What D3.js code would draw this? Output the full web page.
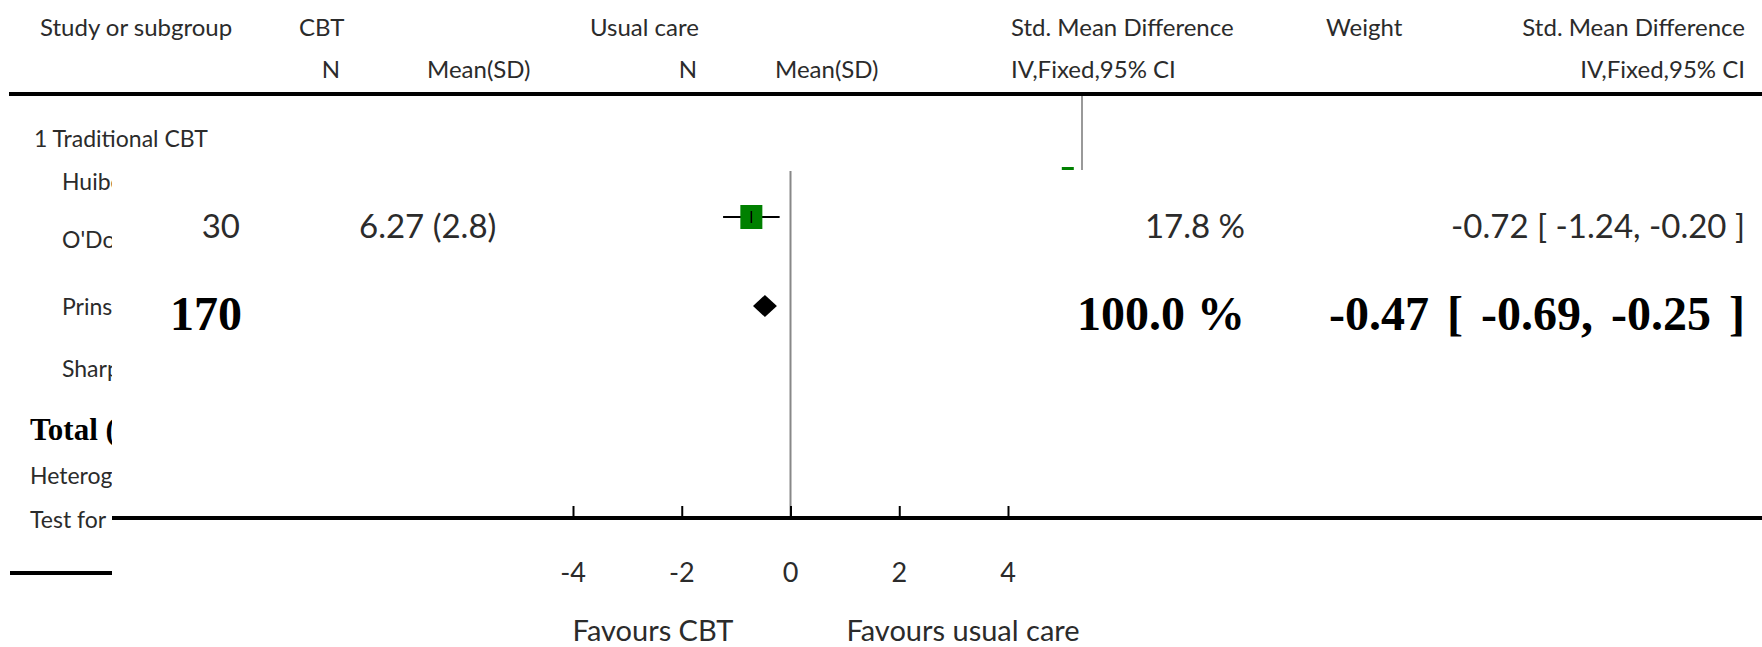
<!DOCTYPE html>
<html>
<head>
<meta charset="utf-8">
<script src="https://cdn.jsdelivr.net/npm/d3@7"></script>
<style>
  body { margin: 0; background: #fff; }
  svg { display: block; }
  text { font-family: Lato, "Open Sans", sans-serif; fill: #2b2b2b; }
  .big { font-family: "Liberation Serif", "DejaVu Serif", serif; font-weight: bold; fill: #000; }
</style>
</head>
<body>
<svg id="chart" width="1762" height="647"></svg>
<script>
// original (small) forest plot rows, mostly hidden behind the zoomed panel
const subgroupLabel = "1 Traditional CBT";
const studies = ["Huibers 2004", "O'Dowd 2006", "Prins 2001", "Sharpe 1996"];
const footLabels = ["Heterogeneity", "Test for overall effect"];
const firstStudySMD = [-0.8];

// zoomed panel: one study row and the total row
const rowN = [30];
const rowMeanSD = ["6.27 (2.8)"];
const rowWeight = [17.8];
const rowSMD = [-0.72];
const rowLo = [-1.24];
const rowHi = [-0.20];

const totalN = [170];
const totalWeight = [100.0];
const totalSMD = [-0.47];
const totalLo = [-0.69];
const totalHi = [-0.25];

const axisTicks = [-4, -2, 0, 2, 4];
const favours = ["Favours CBT", "Favours usual care"];

const svg = d3.select("#chart");
const W = 1762, H = 647;

// ---- header
const head = svg.append("g");
function label(g, x, y, txt, anchor, size) {
  return g.append("text")
    .attr("x", x).attr("y", y).attr("dy", "0.35em")
    .attr("text-anchor", anchor || "start")
    .attr("font-size", size || 24)
    .text(txt);
}
label(head, 40, 28, "Study or subgroup");
label(head, 299, 28, "CBT");
label(head, 590, 28, "Usual care");
label(head, 1011, 28, "Std. Mean Difference");
label(head, 1326, 28, "Weight");
label(head, 1745, 28, "Std. Mean Difference", "end");
label(head, 340, 70, "N", "end");
label(head, 427, 70, "Mean(SD)");
label(head, 697, 70, "N", "end");
label(head, 775, 70, "Mean(SD)");
label(head, 1011, 70, "IV,Fixed,95% CI");
label(head, 1745, 70, "IV,Fixed,95% CI", "end");

head.append("line")
  .attr("x1", 9).attr("x2", W).attr("y1", 94).attr("y2", 94)
  .attr("stroke", "#000").attr("stroke-width", 4);

// ---- original small plot (underneath)
const origX = d3.scaleLinear().domain([-4, 4]).range([1011, 1153]);
const base = svg.append("g");
base.append("line")
  .attr("x1", origX(0)).attr("x2", origX(0))
  .attr("y1", 96).attr("y2", 600)
  .attr("stroke", "#999").attr("stroke-width", 2);
base.selectAll("rect.orig")
  .data(firstStudySMD)
  .join("rect")
  .attr("class", "orig")
  .attr("x", d => origX(d) - 6).attr("y", 167)
  .attr("width", 12).attr("height", 12)
  .attr("fill", "#008000");

label(base, 34, 139, subgroupLabel, "start", 23);
const studyY = [182, 240, 307, 369];
base.selectAll("text.study")
  .data(studies)
  .join("text")
  .attr("class", "study")
  .attr("x", 62).attr("y", (d, i) => studyY[i]).attr("dy", "0.35em")
  .attr("font-size", 23)
  .text(d => d);
base.append("text")
  .attr("class", "big")
  .attr("x", 30).attr("y", 429).attr("dy", "0.35em")
  .attr("font-size", 31)
  .text("Total (95% CI)");
const footY = [476, 520];
base.selectAll("text.foot")
  .data(footLabels)
  .join("text")
  .attr("class", "foot")
  .attr("x", 30).attr("y", (d, i) => footY[i]).attr("dy", "0.35em")
  .attr("font-size", 23)
  .text(d => d);
base.append("line")
  .attr("x1", 10).attr("x2", 300).attr("y1", 573).attr("y2", 573)
  .attr("stroke", "#000").attr("stroke-width", 4);

// ---- zoomed panel on top
const panel = svg.append("g");
panel.append("rect")
  .attr("x", 112).attr("y", 170)
  .attr("width", W - 112).attr("height", H - 170)
  .attr("fill", "#fff");

const x = d3.scaleLinear().domain([-4, 4]).range([573, 1008]);
const axisY = 518;

panel.append("line")
  .attr("x1", x(0)).attr("x2", x(0))
  .attr("y1", 171).attr("y2", axisY)
  .attr("stroke", "#888").attr("stroke-width", 2);

const axis = d3.axisTop(x).tickValues(axisTicks).tickSize(12).tickFormat("");
const ax = panel.append("g")
  .attr("transform", `translate(0,${axisY})`)
  .call(axis);
ax.select(".domain").remove();
ax.selectAll(".tick line").attr("stroke", "#000").attr("stroke-width", 2);
panel.append("line")
  .attr("x1", 112).attr("x2", W).attr("y1", axisY).attr("y2", axisY)
  .attr("stroke", "#000").attr("stroke-width", 4);

panel.selectAll("text.tick")
  .data(axisTicks)
  .join("text")
  .attr("class", "tick")
  .attr("x", d => x(d)).attr("y", 573).attr("dy", "0.35em")
  .attr("text-anchor", "middle").attr("font-size", 27)
  .text(d => d);

const favX = [653, 963];
panel.selectAll("text.fav")
  .data(favours)
  .join("text")
  .attr("class", "fav")
  .attr("x", (d, i) => favX[i]).attr("y", 631).attr("dy", "0.35em")
  .attr("text-anchor", "middle").attr("font-size", 29)
  .text(d => d);

// study row
const rowTextY = 226, rowMarkY = 217;
rowN.forEach((n, i) => {
  label(panel, 240, rowTextY, n, "end", 33);
  label(panel, 359, rowTextY, rowMeanSD[i], "start", 33);
  label(panel, 1245, rowTextY, rowWeight[i].toFixed(1) + " %", "end", 33);
  label(panel, 1745, rowTextY,
    `${rowSMD[i].toFixed(2)} [ ${rowLo[i].toFixed(2)}, ${rowHi[i].toFixed(2)} ]`, "end", 33);
});
panel.selectAll("line.ci")
  .data(rowSMD)
  .join("line")
  .attr("class", "ci")
  .attr("x1", (d, i) => x(rowLo[i])).attr("x2", (d, i) => x(rowHi[i]))
  .attr("y1", rowMarkY).attr("y2", rowMarkY)
  .attr("stroke", "#000").attr("stroke-width", 2);
panel.selectAll("rect.sq")
  .data(rowSMD)
  .join("rect")
  .attr("class", "sq")
  .attr("x", d => x(d) - 11).attr("y", rowMarkY - 12)
  .attr("width", 22).attr("height", 24)
  .attr("fill", "#008000");
panel.selectAll("line.pt")
  .data(rowSMD)
  .join("line")
  .attr("class", "pt")
  .attr("x1", d => x(d)).attr("x2", d => x(d))
  .attr("y1", rowMarkY - 6).attr("y2", rowMarkY + 6)
  .attr("stroke", "#000").attr("stroke-width", 1.5);

// total row
const totTextY = 313, diamondY = 306;
totalN.forEach((n, i) => {
  panel.append("text").attr("class", "big")
    .attr("x", 242).attr("y", totTextY).attr("dy", "0.35em")
    .attr("text-anchor", "end").attr("font-size", 48).text(n);
  panel.append("text").attr("class", "big")
    .attr("x", 1245).attr("y", totTextY).attr("dy", "0.35em")
    .attr("text-anchor", "end").attr("font-size", 48)
    .text(totalWeight[i].toFixed(1) + " %");
  panel.append("text").attr("class", "big")
    .attr("x", 1745).attr("y", totTextY).attr("dy", "0.35em")
    .attr("text-anchor", "end").attr("font-size", 48)
    .attr("word-spacing", 6)
    .text(`${totalSMD[i].toFixed(2)} [ ${totalLo[i].toFixed(2)}, ${totalHi[i].toFixed(2)} ]`);
});
panel.selectAll("path.diamond")
  .data(totalSMD)
  .join("path")
  .attr("class", "diamond")
  .attr("d", (d, i) => {
    const l = x(totalLo[i]), r = x(totalHi[i]), c = x(d), h = 11;
    return `M${l},${diamondY}L${c},${diamondY - h}L${r},${diamondY}L${c},${diamondY + h}Z`;
  })
  .attr("fill", "#000");
</script>
</body>
</html>
